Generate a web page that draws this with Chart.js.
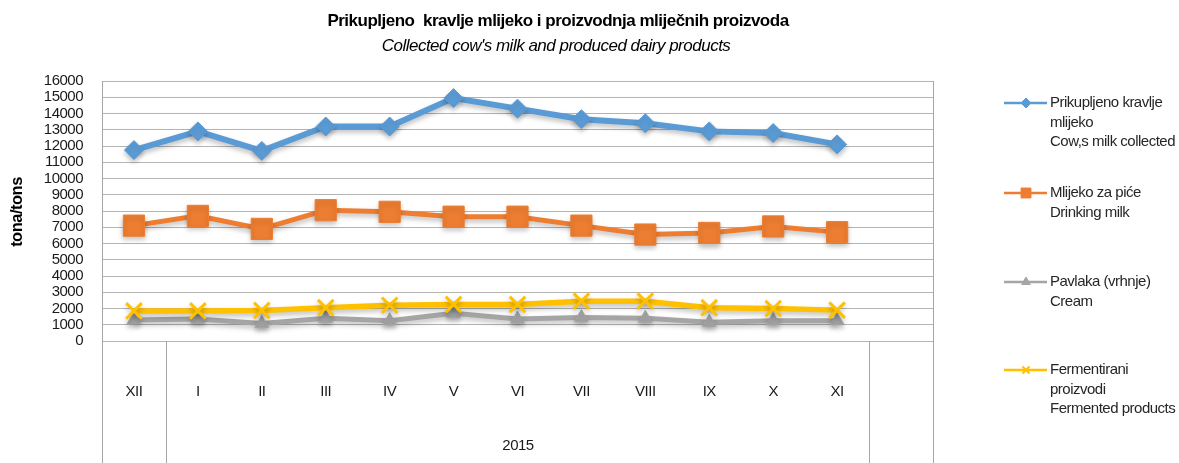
<!DOCTYPE html>
<html><head><meta charset="utf-8">
<script src="https://cdn.jsdelivr.net/npm/chart.js@4.4.1/dist/chart.umd.min.js"></script>
<style>html,body{margin:0;padding:0;background:#fff;overflow:hidden}#wrap{width:1179px;height:463px;position:relative}</style>
</head><body><div id="wrap"><canvas id="c"></canvas></div>
<script>
const titleLine1 = 'Prikupljeno  kravlje mlijeko i proizvodnja mliječnih proizvoda';
const titleLine2 = "Collected cow's milk and produced dairy products";
const yAxisTitle = 'tona/tons';
const months = ['XII','I','II','III','IV','V','VI','VII','VIII','IX','X','XI',''];
const yearGroups = [
  {label: '', from: 0, to: 1},
  {label: '2015', from: 1, to: 12},
  {label: '', from: 12, to: 13}
];
const cowsMilk     = [11750, 12900, 11700, 13200, 13200, 14950, 14300, 13650, 13400, 12900, 12800, 12100, null];
const drinkingMilk = [7100, 7700, 6900, 8050, 7950, 7650, 7650, 7100, 6550, 6650, 7050, 6700, null];
const cream        = [1290, 1350, 1080, 1400, 1250, 1700, 1350, 1450, 1400, 1150, 1250, 1250, null];
const fermented    = [1850, 1850, 1880, 2050, 2200, 2250, 2250, 2450, 2450, 2050, 2000, 1900, null];
const seriesLabels = [
  ['Prikupljeno kravlje', 'mlijeko', 'Cow,s milk collected'],
  ['Mlijeko za piće', 'Drinking milk'],
  ['Pavlaka (vrhnje)', 'Cream'],
  ['Fermentirani', 'proizvodi', 'Fermented products']
];
const yTickLabels = ['0','1000','2000','3000','4000','5000','6000','7000','8000','9000','10000','11000','12000','13000','14000','15000','16000'];
const yMin = 0, yMax = 16000, yStep = 1000;

const FONT = '"Liberation Sans", Arial, sans-serif';
const colors = ['#5b9bd5', '#ed7d31', '#a5a5a5', '#ffc000'];
const legendY = [103, 193, 282, 370];

const decor = {
  id: 'decor',
  beforeDraw(chart) { chart.ctx.letterSpacing = '-0.5px'; },
  afterDraw(chart) {
    const {ctx, chartArea: a, scales: {x}} = chart;
    const H = chart.height;
    ctx.save();
    ctx.letterSpacing = '-0.5px';
    ctx.strokeStyle = '#a6a6a6';
    ctx.lineWidth = 1;
    const half = (x.getPixelForValue(1) - x.getPixelForValue(0)) / 2;
    const bx = i => Math.round(x.getPixelForValue(i) - half) + 0.5;
    ctx.beginPath();
    ctx.moveTo(Math.round(a.right) + 0.5, a.top);
    ctx.lineTo(Math.round(a.right) + 0.5, H);
    ctx.stroke();
    const seps = new Set();
    yearGroups.forEach(g => { seps.add(g.from); seps.add(g.to); });
    seps.forEach(i => {
      ctx.beginPath();
      ctx.moveTo(bx(i), a.bottom);
      ctx.lineTo(bx(i), H);
      ctx.stroke();
    });
    ctx.fillStyle = '#1a1a1a';
    ctx.font = '15px ' + FONT;
    ctx.textAlign = 'center';
    ctx.textBaseline = 'middle';
    yearGroups.forEach(g => {
      if (g.label) ctx.fillText(g.label, (bx(g.from) + bx(g.to)) / 2, 446);
    });
    ctx.fillStyle = '#000';
    ctx.font = 'bold 17px ' + FONT;
    ctx.fillText(titleLine1, 558, 21);
    ctx.font = 'italic 17px ' + FONT;
    ctx.fillText(titleLine2, 556, 46);
    ctx.save();
    ctx.translate(17, 212);
    ctx.rotate(-Math.PI / 2);
    ctx.font = 'bold 16.5px ' + FONT;
    ctx.fillText(yAxisTitle, 0, 0);
    ctx.restore();
    chart.data.datasets.forEach((ds, i) => {
      const y = legendY[i];
      ctx.strokeStyle = ds.borderColor;
      ctx.fillStyle = ds.borderColor;
      ctx.lineWidth = 2.5;
      ctx.beginPath();
      ctx.moveTo(1004, y);
      ctx.lineTo(1047, y);
      ctx.stroke();
      ctx.lineWidth = ds.pointStyle === 'crossRot' ? 2 : 1;
      Chart.helpers.drawPoint(ctx, {
        pointStyle: ds.pointStyle, radius: ds.legendRadius,
        borderWidth: ds.pointStyle === 'crossRot' ? 2 : 1, rotation: 0
      }, 1026, y);
      ctx.fillStyle = '#262626';
      ctx.font = '15px ' + FONT;
      ctx.textAlign = 'left';
      ctx.textBaseline = 'middle';
      seriesLabels[i].forEach((t, k) => ctx.fillText(t, 1050, y + k * 19.5));
    });
    ctx.restore();
  }
};

const shadow = {
  id: 'shadow',
  beforeDatasetDraw(chart) {
    const ctx = chart.ctx;
    ctx.save();
    ctx.shadowColor = 'rgba(0,0,0,0.25)';
    ctx.shadowBlur = 5;
    ctx.shadowOffsetY = 3;
  },
  afterDatasetDraw(chart) { chart.ctx.restore(); }
};

function mk(label, data, color, style, radius, lw, order, legendRadius) {
  return {
    label, data, borderColor: color, backgroundColor: color,
    pointBackgroundColor: color, pointBorderColor: color,
    pointStyle: style, pointRadius: radius, pointHoverRadius: radius,
    pointBorderWidth: style === 'crossRot' ? 3 : 1,
    borderWidth: lw, tension: 0, order, legendRadius,
    fill: false, clip: false
  };
}

const chart = new Chart(document.getElementById('c'), {
  type: 'line',
  data: {
    labels: months,
    datasets: [
      mk(seriesLabels[0].join(' '), cowsMilk, colors[0], 'rectRot', 9.5, 6, 3, 5),
      mk(seriesLabels[1].join(' '), drinkingMilk, colors[1], 'rect', 15, 5, 2, 7),
      mk(seriesLabels[2].join(' '), cream, colors[2], 'triangle', 8, 5, 1, 5),
      mk(seriesLabels[3].join(' '), fermented, colors[3], 'crossRot', 11, 5.5, 0, 5)
    ]
  },
  options: {
    responsive: true,
    maintainAspectRatio: false,
    animation: false,
    events: [],
    layout: {padding: {left: 0, top: 81, right: 246, bottom: 0}},
    plugins: {legend: {display: false}, tooltip: {enabled: false}, title: {display: false}},
    scales: {
      x: {
        type: 'category',
        offset: true,
        grid: {display: false, drawTicks: false},
        border: {display: false},
        ticks: {
          autoSkip: false, maxRotation: 0, minRotation: 0,
          padding: 42, color: '#1a1a1a',
          font: {family: FONT, size: 15}
        },
        afterFit(s) { s.height = 122; }
      },
      y: {
        min: yMin, max: yMax,
        grid: {color: '#b4b4b4', lineWidth: 1, drawTicks: false},
        border: {display: true, color: '#a6a6a6', width: 1},
        ticks: {
          stepSize: yStep, autoSkip: false, padding: 19, color: '#1a1a1a',
          font: {family: FONT, size: 15},
          callback: (v) => yTickLabels[Math.round(v / yStep)]
        },
        afterFit(s) { s.width = 102; }
      }
    }
  },
  plugins: [shadow, decor]
});
</script>
</body></html>
